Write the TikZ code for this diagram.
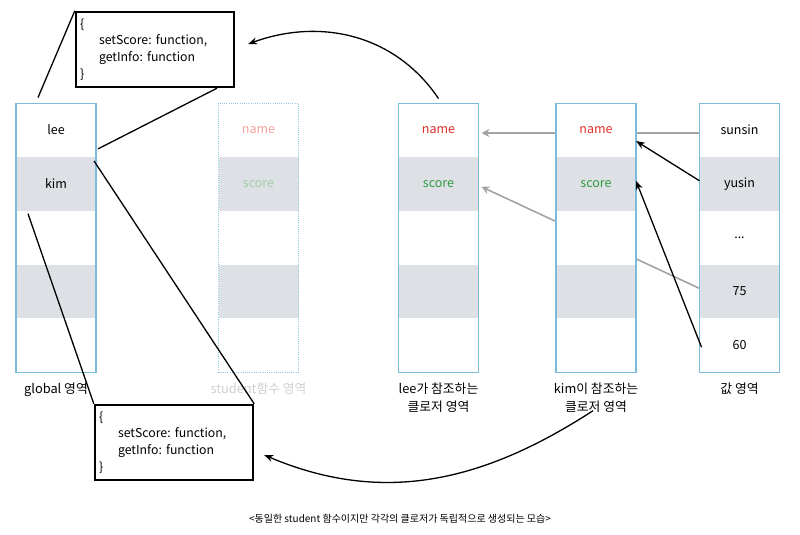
\documentclass[tikz,border=0pt]{standalone}
\usepackage{fontspec}
\setmainfont{Noto Sans CJK KR}
\usetikzlibrary{positioning,fit,arrows.meta,backgrounds,shadows}

\definecolor{colblue}{HTML}{7BBCDD}
\definecolor{rowgray}{HTML}{DDE0E5}
\definecolor{namered}{HTML}{E0312B}
\definecolor{scoregreen}{HTML}{2F9A3F}
\definecolor{fadered}{HTML}{F2A39D}
\definecolor{fadegreen}{HTML}{A3CFA6}
\definecolor{fadegray}{HTML}{CFCFCF}
\definecolor{linkgray}{HTML}{A3A3A3}

\frenchspacing

\begin{document}
\begin{tikzpicture}[x=1pt,y=1pt,
        cell/.style = {
            minimum width=80pt,
            minimum height=53.8pt,
            inner sep=0pt, outer sep=0pt,
            fill=white,
            font=\fontsize{12.5}{14}\selectfont
        },
        graycell/.style = {cell, fill=rowgray},
        column/.style = {draw=colblue, line width=1.1pt, inner sep=0pt},
        lbl/.style = {inner sep=0pt, align=center, font=\fontsize{12.8}{18}\selectfont},
        codebox/.style = {
            draw, line width=2.4pt, fill=white,
            text width=150pt, inner xsep=4pt,
            minimum height=75pt, align=left,
            font=\fontsize{12.3}{16.8}\selectfont,
            drop shadow={shadow xshift=1.2pt, shadow yshift=-1.2pt, opacity=0.35}
        },
        link/.style = {line width=1.3pt},
        blackarr/.style = {line width=1.3pt, -{Stealth[length=9pt,width=7pt]}},
        grayarr/.style = {draw=linkgray, line width=1.6pt, -{Stealth[length=8pt,width=8pt]}}]

        \useasboundingbox (0,0) rectangle (800,-535);

        % global
        \node[cell] (g1) at (56,-130) {lee};
        \node[graycell, below=0pt of g1] (g2) {kim};
        \node[cell, below=0pt of g2] (g3) {};
        \node[graycell, below=0pt of g3] (g4) {};
        \node[cell, below=0pt of g4] (g5) {};
        \node[column, fit=(g1) (g5)] (glob) {};

        % student
        \node[cell, text=fadered] (s1) at (258.5,-130) {name};
        \node[graycell, text=fadegreen, below=0pt of s1] (s2) {score};
        \node[cell, below=0pt of s2] (s3) {};
        \node[graycell, below=0pt of s3] (s4) {};
        \node[cell, below=0pt of s4] (s5) {};
        \node[column, draw=colblue!85, line width=1pt, dash pattern=on 1pt off 1.2pt, fit=(s1) (s5)] (stud) {};

        % lee
        \node[cell, text=namered] (l1) at (438.5,-130) {name};
        \node[graycell, text=scoregreen, below=0pt of l1] (l2) {score};
        \node[cell, below=0pt of l2] (l3) {};
        \node[graycell, below=0pt of l3] (l4) {};
        \node[cell, below=0pt of l4] (l5) {};
        \node[column, fit=(l1) (l5)] (leec) {};

        % kim
        \node[cell, text=namered] (k1) at (596,-130) {name};
        \node[graycell, text=scoregreen, below=0pt of k1] (k2) {score};
        \node[cell, below=0pt of k2] (k3) {};
        \node[graycell, below=0pt of k3] (k4) {};
        \node[cell, below=0pt of k4] (k5) {};
        \node[column, fit=(k1) (k5)] (kimc) {};

        % values
        \node[cell] (v1) at (739.5,-130) {sunsin};
        \node[graycell, below=0pt of v1] (v2) {yusin};
        \node[cell, below=0pt of v2] (v3) {...};
        \node[graycell, below=0pt of v3] (v4) {75};
        \node[cell, below=0pt of v4] (v5) {60};
        \node[column, fit=(v1) (v5)] (valc) {};

        \node[lbl, below=10pt of glob] (globlbl) {global 영역};
        \node[lbl, text=fadegray, below=10pt of stud] (studlbl) {student함수 영역};
        \node[lbl, below=10pt of leec] (leelbl) {lee가 참조하는\\클로저 영역};
        \node[lbl, below=10pt of kimc] (kimlbl) {kim이 참조하는\\클로저 영역};
        \node[lbl, below=10pt of valc] (vallbl) {값 영역};

        \node[codebox] (box1) at (155,-49.5) {\{\\\hspace*{19pt}setScore: function,\\\hspace*{19pt}getInfo: function\\\}};
        \node[codebox] (box2) at (174,-442.5) {\{\\\hspace*{19pt}setScore: function,\\\hspace*{19pt}getInfo: function\\\}};

        \node[font=\fontsize{10}{12}\selectfont] (caption) at (400,-519) {<동일한 student 함수이지만 각각의 클로저가 독립적으로 생성되는 모습>};

        \begin{scope}[on background layer]
            \draw[grayarr] ([yshift=-3pt]v1.west) -- ([xshift=3pt,yshift=-3pt]l1.east);
            \draw[grayarr] ([yshift=3pt]v4.west) -- ([xshift=3pt,yshift=-3pt]l2.east);
        \end{scope}

        \draw[blackarr] ([yshift=3pt]v2.west) -- ([yshift=-11pt]k1.east);
        \draw[blackarr] ([xshift=2pt,yshift=-2pt]v5.west) -- ([yshift=3pt]k2.east);

        \coordinate (gtop) at ([xshift=-18pt,yshift=5pt]glob.north);
        \draw[link] (box1.north west) -- (gtop);
        \draw[link] ([xshift=62pt]box1.south) -- ([xshift=2pt,yshift=8pt]g1.south east);
        \draw[link] ([xshift=-2pt,yshift=-4pt]g2.north east) -- (box2.north east);
        \draw[link] ([xshift=-28pt,yshift=-3pt]g3.north) -- (box2.north west);

        \draw[blackarr] ([yshift=4pt]leec.north) to[out=124,in=20] ([xshift=13pt,yshift=5.5pt]box1.east);
        \draw[blackarr] ([xshift=-3pt,yshift=2pt]kimlbl.south) to[out=-147,in=-23] ([xshift=10pt,yshift=-12.5pt]box2.east);
    \end{tikzpicture}
\end{document}
